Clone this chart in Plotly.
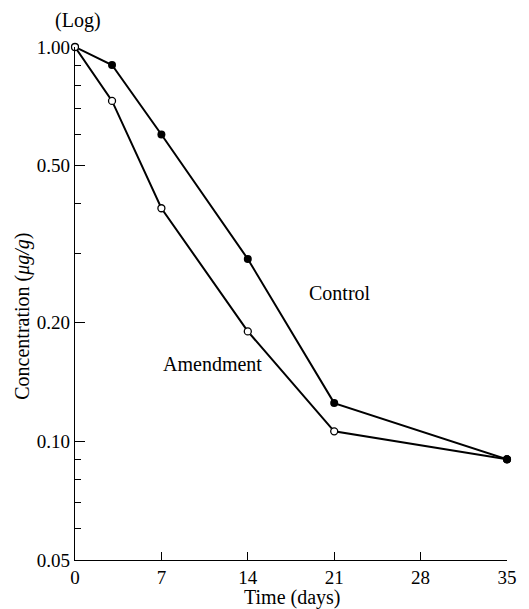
import math
import plotly.graph_objects as go

days = [0, 3, 7, 14, 21, 35]
control = [1.00, 0.90, 0.60, 0.29, 0.125, 0.09]
amendment = [1.00, 0.73, 0.39, 0.19, 0.106, 0.09]

x_ticks = [0, 7, 14, 21, 28, 35]
y_major = [0.05, 0.10, 0.20, 0.50, 1.00]
y_major_text = ["0.05", "0.10", "0.20", "0.50", "1.00"]
y_minor = [0.06, 0.07, 0.08, 0.09, 0.3, 0.4, 0.6, 0.7, 0.8, 0.9]

FONT = "Liberation Serif"

fig = go.Figure()
fig.add_trace(go.Scatter(
    x=days, y=control, mode="lines+markers", name="Control",
    line=dict(color="black", width=2),
    marker=dict(symbol="circle", size=8, color="black"),
    cliponaxis=False,
))
fig.add_trace(go.Scatter(
    x=days, y=amendment, mode="lines+markers", name="Amendment",
    line=dict(color="black", width=2),
    marker=dict(symbol="circle", size=7, color="white",
                line=dict(color="black", width=1.3)),
    cliponaxis=False,
))
# shared final point drawn filled
fig.add_trace(go.Scatter(
    x=[days[-1]], y=[control[-1]], mode="markers",
    marker=dict(symbol="circle", size=8, color="black"),
    cliponaxis=False, showlegend=False,
))

fig.update_layout(
    width=529, height=609,
    margin=dict(l=75, r=16, t=47, b=49),
    paper_bgcolor="white", plot_bgcolor="white",
    showlegend=False,
    font=dict(family=FONT, color="black", size=19),
)
fig.update_xaxes(
    range=[0, 35], tickvals=x_ticks, ticktext=[str(v) for v in x_ticks],
    ticks="inside", ticklen=8, tickwidth=1.2, tickcolor="black",
    showline=True, linecolor="black", linewidth=1.3, showgrid=False,
    zeroline=False, tickfont=dict(family=FONT, size=19),
)
fig.update_yaxes(
    type="log", range=[math.log10(0.05), 0],
    tickvals=y_major, ticktext=y_major_text,
    ticks="inside", ticklen=10, tickwidth=1.2, tickcolor="black",
    minor=dict(tickvals=y_minor, ticks="inside", ticklen=6, tickwidth=1, tickcolor="black"),
    showline=True, linecolor="black", linewidth=1.3, showgrid=False,
    zeroline=False, tickfont=dict(family=FONT, size=19),
)

# axis titles placed as annotations (paper coordinates relative to plot area)
W, H = 529, 609
L, R, T, B = 75, 16, 47, 49
pw, ph = W - L - R, H - T - B
def px(xp):
    return (xp - L) / pw
def py(yp):
    return (H - B - yp) / ph

fig.add_annotation(xref="paper", yref="paper", x=px(21), y=py(316),
                   text="Concentration (<i>μg/g</i>)", textangle=-90, showarrow=False,
                   xanchor="center", yanchor="middle", font=dict(family=FONT, size=20))
fig.add_annotation(xref="paper", yref="paper", x=px(295), y=py(597),
                   text="Time (days)", showarrow=False,
                   xanchor="center", yanchor="middle", font=dict(family=FONT, size=20))
fig.add_annotation(xref="paper", yref="paper", x=px(78), y=py(20),
                   text="(Log)", showarrow=False,
                   xanchor="center", yanchor="middle", font=dict(family=FONT, size=20))

fig.add_annotation(x=21.5, y=math.log10(0.238), text="Control", showarrow=False,
                   font=dict(family=FONT, size=20))
fig.add_annotation(x=11.1, y=math.log10(0.157), text="Amendment", showarrow=False,
                   font=dict(family=FONT, size=20))

fig.write_html("out.html")
